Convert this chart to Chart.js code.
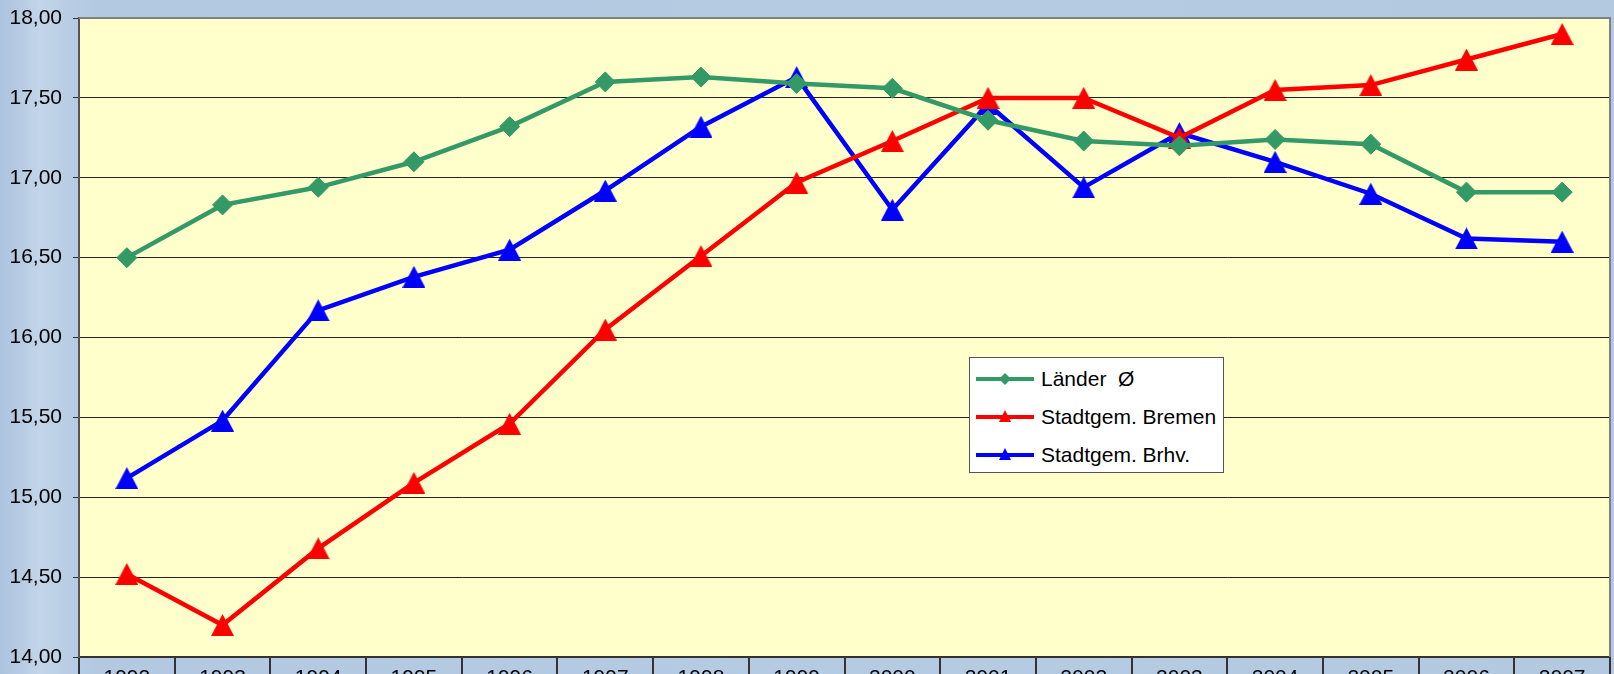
<!DOCTYPE html>
<html>
<head>
<meta charset="utf-8">
<script src="https://cdn.jsdelivr.net/npm/chart.js@4.4.1/dist/chart.umd.min.js"></script>
<style>
	html, body { margin: 0; padding: 0; overflow: hidden; }
	body {
		width: 1614px; height: 674px; position: relative;
		background: linear-gradient(90deg, #abc3dd 0%, #c2d5ea 2.5%, #b9cee5 4%, #b3c9e1 6%, #b5cbe2 60%, #b3c9e0 100%);
		font-family: "Liberation Sans", Arial, sans-serif;
	}
	#wrap { position: absolute; left: 0; top: 0; width: 1614px; height: 700px; }
	#legend {
		position: absolute; left: 969px; top: 357px; width: 253px; height: 112px;
		padding-top: 2px;
		background: #fff; border: 1px solid #555;
	}
	#legend .row { height: 38px; display: flex; align-items: center; }
	#legend svg { margin-left: 5px; margin-right: 6px; }
	#legend span { font-size: 21px; color: #000; white-space: pre; }
</style>
</head>
<body>
<div id="wrap"><canvas id="line-chart" width="1614" height="700"></canvas></div>
<div id="legend"></div>
<script>
const years = [ '1992', '1993', '1994', '1995', '1996', '1997', '1998', '1999',
		'2000', '2001', '2002', '2003', '2004', '2005', '2006', '2007' ];
const laender = [ 16.50, 16.83, 16.94, 17.10, 17.32, 17.60, 17.63, 17.59,
		17.56, 17.36, 17.23, 17.20, 17.24, 17.21, 16.91, 16.91 ];
const bremen = [ 14.52, 14.20, 14.68, 15.09, 15.46, 16.05, 16.51, 16.97,
		17.23, 17.50, 17.50, 17.25, 17.55, 17.58, 17.74, 17.90 ];
const brhv = [ 15.12, 15.48, 16.17, 16.38, 16.55, 16.92, 17.32, 17.63,
		16.80, 17.46, 16.94, 17.28, 17.10, 16.90, 16.62, 16.60 ];
const seriesNames = [ 'Länder  Ø', 'Stadtgem. Bremen', 'Stadtgem. Brhv.' ];
const seriesColors = [ '#339966', '#ff0000', '#0000ff' ];
const yMin = 14, yMax = 18, yStep = 0.5;

// gelber Hintergrund + grauer Rahmen der Zeichenflaeche
const plotBg = {
	id : 'plotBg',
	beforeDraw(chart) {
		const a = chart.chartArea, ctx = chart.ctx;
		ctx.save();
		ctx.fillStyle = '#ffffcc';
		ctx.fillRect(a.left, a.top, a.right - a.left, a.bottom - a.top);
		ctx.restore();
	},
	afterDatasetsDraw(chart) {
		const a = chart.ctx, c = chart.chartArea;
		a.save();
		a.strokeStyle = '#808080';
		a.lineWidth = 2;
		a.beginPath();
		a.moveTo(c.left, c.top);
		a.lineTo(c.right, c.top);
		a.lineTo(c.right, c.bottom);
		a.stroke();
		a.restore();
	}
};

// Excel-Dreieck: Mitte der Box liegt auf dem Punkt
function triangleMarker(color) {
	const c = document.createElement('canvas');
	c.width = 23; c.height = 22;
	const g = c.getContext('2d');
	g.fillStyle = color;
	g.beginPath();
	g.moveTo(11.5, 0);
	g.lineTo(23, 22);
	g.lineTo(0, 22);
	g.closePath();
	g.fill();
	return c;
}

function makeSet(i, data, marker, radius) {
	return {
		label : seriesNames[i],
		data : data,
		borderColor : seriesColors[i],
		backgroundColor : seriesColors[i],
		borderWidth : 4.5,
		pointStyle : marker,
		pointRadius : radius,
		pointBorderWidth : 1,
		tension : 0,
		fill : false
	};
}

let ctx = document.getElementById('line-chart').getContext('2d');
let lineChart = new Chart(ctx, {
	type : 'line',
	data : {
		labels : years,
		datasets : [
			makeSet(0, laender, 'rectRot', 10),
			makeSet(1, bremen, triangleMarker(seriesColors[1]), 11),
			makeSet(2, brhv, triangleMarker(seriesColors[2]), 11)
		]
	},
	options : {
		responsive : false,
		animation : false,
		devicePixelRatio : 1,
		layout : { autoPadding : false, padding : { top : 18, right : 4, left : 0, bottom : 0 } },
		plugins : { legend : { display : false }, tooltip : { enabled : false } },
		scales : {
			x : {
				offset : true,
				afterFit : function(s) { s.height = 43; s.paddingLeft = 0; s.paddingRight = 0; },
				border : { color : '#333', width : 2 },
				grid : { drawOnChartArea : false, offset : true, tickLength : 30, tickColor : '#333', lineWidth : 2 },
				ticks : { color : '#000', padding : -21, maxRotation : 0, autoSkip : false,
					font : { family : 'Liberation Sans', size : 21 } }
			},
			y : {
				min : yMin,
				max : yMax,
				afterFit : function(s) { s.width = 79; s.paddingTop = 0; s.paddingBottom = 0; },
				border : { color : '#555', width : 2 },
				grid : {
					color : c => (c.tick && c.tick.value === yMax) ? '#808080' : '#222',
					tickLength : 6, tickColor : '#333', lineWidth : 1
				},
				ticks : {
					stepSize : yStep, padding : 11, color : '#000',
					font : { family : 'Liberation Sans', size : 21 },
					callback : v => v.toFixed(2).replace('.', ',')
				}
			}
		}
	},
	plugins : [ plotBg ]
});

// Legende als HTML
const markers = [
	'<polygon points="30,6 36,12 30,18 24,12" />',
	'<polygon points="30,5 36,17 24,17" />',
	'<polygon points="30,5 36,17 24,17" />'
];
let html = '';
seriesNames.forEach((name, i) => {
	html += `<div class="row">
		<svg width="60" height="24"><line x1="1" y1="12" x2="59" y2="12" stroke="${seriesColors[i]}" stroke-width="4"/>
		<g fill="${seriesColors[i]}">${markers[i]}</g></svg>
		<span>${name}</span></div>`;
});
document.getElementById('legend').innerHTML = html;
</script>
</body>
</html>
